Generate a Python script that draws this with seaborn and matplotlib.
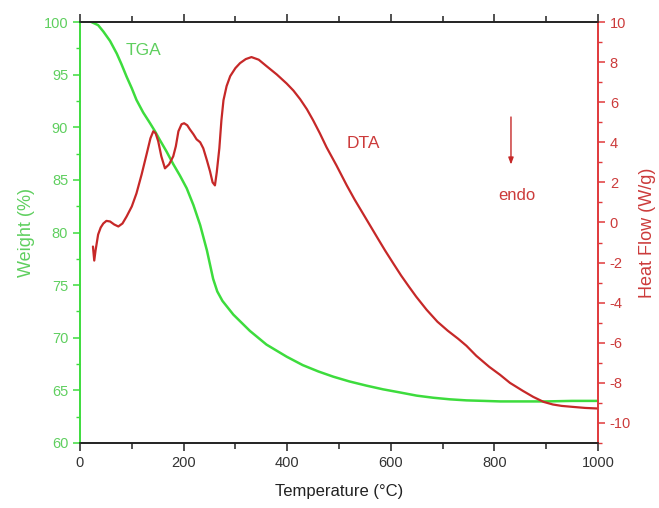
import numpy as np
import pandas as pd
import matplotlib
matplotlib.use("Agg")
import matplotlib.pyplot as plt
import seaborn as sns
from matplotlib.ticker import MultipleLocator

# TGA data (temperature °C, weight %)
tga_temp = [22, 35, 45, 58, 71, 80, 90, 100, 109, 122, 135, 145, 154, 167, 180, 193, 206, 219, 232, 245, 257, 265, 275,
            296, 328, 360, 399, 430, 460, 489, 520, 553, 585, 618, 650, 682, 714, 746, 780, 811, 850, 900, 950, 1000]
tga_weight = [100.0, 99.7, 99.1, 98.2, 97.0, 96.0, 94.8, 93.7, 92.6, 91.4, 90.4, 89.6, 88.8, 87.7, 86.5, 85.4, 84.2, 82.6,
              80.7, 78.3, 75.6, 74.4, 73.5, 72.2, 70.65, 69.35, 68.2, 67.4, 66.8, 66.3, 65.85, 65.45, 65.1, 64.8, 64.5,
              64.3, 64.15, 64.05, 64.0, 63.95, 63.95, 63.95, 64.0, 64.0]

# DTA data (temperature °C, heat flow W/g)
dta_temp = [25, 27.5, 30, 35, 40, 45, 51, 58, 66, 74, 82, 90, 100, 109, 119, 129, 136, 141.5, 146, 151, 157, 164, 172,
            180, 185, 190, 196, 201, 207, 212, 219, 225, 232, 238, 245, 251, 256, 260.5, 264, 269, 273, 277, 283, 290,
            300, 309, 320, 331, 345, 360, 380, 399, 412, 425, 438, 450, 463, 476, 495, 515, 530, 545, 560, 575, 589,
            605, 620, 635, 649, 669, 690, 710, 730, 746, 765, 790, 811, 830, 855, 875, 895, 913, 930, 952, 975, 1000]
dta_heat = [-1.2, -1.9, -1.4, -0.6, -0.25, -0.05, 0.08, 0.05, -0.1, -0.2, -0.05, 0.3, 0.8, 1.45, 2.4, 3.45, 4.2, 4.55,
            4.45, 4.05, 3.3, 2.7, 2.9, 3.3, 3.8, 4.55, 4.9, 4.95, 4.85, 4.65, 4.4, 4.15, 4.0, 3.7, 3.1, 2.55, 2.0, 1.85,
            2.5, 3.7, 5.1, 6.1, 6.8, 7.3, 7.7, 7.95, 8.15, 8.25, 8.12, 7.8, 7.38, 6.93, 6.58, 6.15, 5.65, 5.1, 4.45,
            3.75, 2.85, 1.85, 1.15, 0.5, -0.15, -0.8, -1.4, -2.05, -2.65, -3.2, -3.7, -4.35, -4.95, -5.4, -5.8, -6.15,
            -6.65, -7.2, -7.6, -8.0, -8.4, -8.7, -8.95, -9.08, -9.15, -9.2, -9.25, -9.28]

x_ticks = [0, 200, 400, 600, 800, 1000]
left_ticks = [60, 65, 70, 75, 80, 85, 90, 95, 100]
right_ticks = [-10, -8, -6, -4, -2, 0, 2, 4, 6, 8, 10]

sns.set_style("ticks")
plt.rcParams['font.family'] = ['Liberation Sans', 'DejaVu Sans']
plt.rcParams['axes.unicode_minus'] = False

GREEN = "#3ddc3d"
GREEN_TXT = "#5fcf5f"
RED = "#c62828"
RED_AX = "#e0393b"
RED_TXT = "#cc3b3b"

fig = plt.figure(figsize=(6.59, 5.08), dpi=100)
ax = fig.add_axes([80 / 659, 1 - 443 / 508, (598 - 80) / 659, (443 - 22) / 508])
ax2 = ax.twinx()

tga = pd.DataFrame({"T": tga_temp, "W": tga_weight})
dta = pd.DataFrame({"T": dta_temp, "H": dta_heat})

sns.lineplot(data=tga, x="T", y="W", ax=ax, color=GREEN, linewidth=1.8, sort=False,
             solid_joinstyle="round", solid_capstyle="round")
sns.lineplot(data=dta, x="T", y="H", ax=ax2, color=RED, linewidth=1.6, sort=False,
             solid_joinstyle="round", solid_capstyle="round")

ax.set_xlim(0, 1000)
ax.set_ylim(60, 100)
ax2.set_ylim(-11, 10)

ax.set_xticks(x_ticks)
ax.xaxis.set_minor_locator(MultipleLocator(100))
ax.set_yticks(left_ticks)
ax.yaxis.set_minor_locator(MultipleLocator(2.5))
ax2.set_yticks(right_ticks)
ax2.yaxis.set_minor_locator(MultipleLocator(1))

for a in (ax, ax2):
    for s in a.spines.values():
        s.set_visible(True)
        s.set_linewidth(1.2)
ax.spines['top'].set_color("#222222")
ax.spines['bottom'].set_color("#222222")
ax2.spines['top'].set_color("#222222")
ax2.spines['bottom'].set_color("#222222")
ax.spines['left'].set_color(GREEN)
ax2.spines['left'].set_color(GREEN)
ax2.spines['right'].set_color(RED_AX)
ax.spines['right'].set_color(RED_AX)

ax.tick_params(axis='x', which='both', direction='out', top=True, bottom=True, colors="#222222",
               labelcolor="#333333", labelsize=10.5)
ax.tick_params(axis='x', which='major', length=6, width=1.1)
ax.tick_params(axis='x', which='minor', length=4, width=1.1)
ax.tick_params(axis='y', which='both', direction='out', left=True, right=False, colors=GREEN,
               labelcolor=GREEN_TXT, labelsize=10.5)
ax.tick_params(axis='y', which='major', length=5, width=1.1)
ax.tick_params(axis='y', which='minor', length=3, width=1.0)
ax2.tick_params(axis='y', which='both', direction='out', right=True, left=False, colors=RED_AX,
                labelcolor=RED_TXT, labelsize=10.5)
ax2.tick_params(axis='y', which='major', length=5, width=1.1)
ax2.tick_params(axis='y', which='minor', length=3, width=1.0)

ax.set_xlabel("Temperature (°C)", fontsize=12, color="#222222", labelpad=10)
ax.set_ylabel("Weight (%)", fontsize=13, color=GREEN_TXT, labelpad=6)
ax2.set_ylabel("Heat Flow (W/g)", fontsize=13, color=RED_TXT, labelpad=6)

ax.text(122, 97.3, "TGA", color=GREEN_TXT, fontsize=12.5, ha="center", va="center")
ax2.text(547, 3.93, "DTA", color=RED_TXT, fontsize=12.5, ha="center", va="center")
ax2.text(843, 1.35, "endo", color=RED_TXT, fontsize=12, ha="center", va="center")
ax2.annotate("", xy=(832, 2.75), xytext=(832, 5.4),
             arrowprops=dict(arrowstyle="-|>,head_length=0.4,head_width=0.15", color=RED, lw=1.0))

fig.savefig("out.png", dpi=100)
